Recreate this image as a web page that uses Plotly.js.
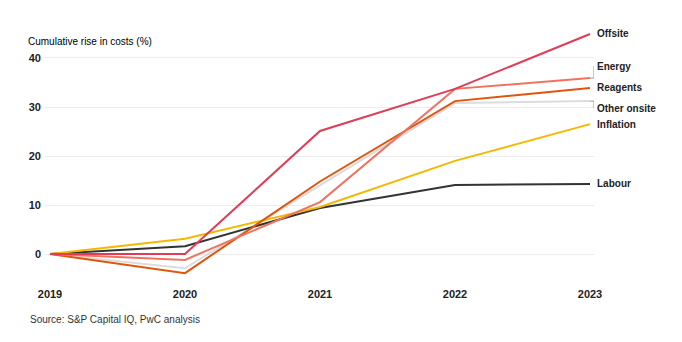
<!DOCTYPE html>
<html>
<head>
<meta charset="utf-8">
<script src="https://cdn.plot.ly/plotly-3.0.1.min.js"></script>
<style>html,body{margin:0;padding:0;background:#fff;}#chart{width:682px;height:342px;}</style>
</head>
<body>
<div id="chart"></div>
<script>
const years = [2019, 2020, 2021, 2022, 2023];
const otherOnsite = [0, -2.9, 14.0, 30.8, 31.2];
const labour = [0, 1.6, 9.4, 14.1, 14.3];
const inflation = [0, 3.1, 9.6, 19.0, 26.5];
const reagents = [0, -3.9, 14.8, 31.2, 33.9];
const energy = [0, -1.2, 10.6, 33.7, 35.9];
const offsite = [0, 0, 25.1, 33.7, 44.9];
const yTicks = [0, 10, 20, 30, 40];
const xTicks = ['2019', '2020', '2021', '2022', '2023'];

const series = [
  {name: 'Other onsite', y: otherOnsite, color: '#dcdcdc', shift: -7},
  {name: 'Labour', y: labour, color: '#333333', shift: 0},
  {name: 'Inflation', y: inflation, color: '#f5b800', shift: 0},
  {name: 'Reagents', y: reagents, color: '#e0540c', shift: 0},
  {name: 'Energy', y: energy, color: '#f0735f', shift: 12},
  {name: 'Offsite', y: offsite, color: '#e23b55', shift: 0}
];

const traces = series.map(s => ({
  x: years, y: s.y, type: 'scatter', mode: 'lines', name: s.name,
  line: {color: s.color, width: 2}, hoverinfo: 'skip'
}));

const pxPerUnit = 4.9;
const annotations = series.map(s => ({
  x: years[years.length - 1], y: s.y[s.y.length - 1], xref: 'x', yref: 'y',
  text: '<b>' + s.name + '</b>', showarrow: false, xanchor: 'left', yanchor: 'middle',
  xshift: 5, yshift: s.shift, font: {family: 'Liberation Sans, Arial, sans-serif', size: 10, color: '#222'}
}));
annotations.push({
  x: -0.031, y: -0.145, xref: 'paper', yref: 'paper', xanchor: 'left', yanchor: 'middle',
  text: 'Source: S&P Capital IQ, PwC analysis', showarrow: false,
  font: {family: 'Liberation Sans, Arial, sans-serif', size: 10, color: '#333'}
});

const shapes = [];
const xUnit = 1 / 135;
series.filter(s => s.shift !== 0).forEach(s => {
  const yEnd = s.y[s.y.length - 1];
  const yLab = yEnd + s.shift / pxPerUnit;
  const x0 = 2023, x1 = 2023 + 4 * xUnit, x2 = 2023 + 7 * xUnit;
  shapes.push({type: 'path', xref: 'x', yref: 'y',
    path: `M ${x0} ${yEnd} L ${x1} ${yEnd} L ${x1} ${yLab} L ${x2} ${yLab}`,
    line: {color: '#9a9a9a', width: 1}});
});

const layout = {
  width: 682, height: 342,
  margin: {l: 45, r: 88, t: 24, b: 60},
  paper_bgcolor: '#fff', plot_bgcolor: '#fff',
  showlegend: false,
  title: {text: 'Cumulative rise in costs (%)', x: 28 / 682, xanchor: 'left', xref: 'container',
    y: 1 - 41 / 342, yanchor: 'middle', yref: 'container',
    font: {family: 'Liberation Sans, Arial, sans-serif', size: 10, color: '#000'}},
  xaxis: {range: [2019 - 5 * xUnit, 2023 + 4 * xUnit], tickvals: years, ticktext: xTicks.map(t => '<b>' + t + '</b>'),
    showgrid: false, zeroline: false, showline: false, ticks: '',
    tickfont: {family: 'Liberation Sans, Arial, sans-serif', size: 11, color: '#222'}, ticklabelstandoff: 4},
  yaxis: {range: [-5.71, 41.63 + 26 / 4.9], tickvals: yTicks, ticktext: yTicks.map(t => '<b>' + t + '</b>'),
    showgrid: true, gridcolor: '#ececec', gridwidth: 1, zeroline: false, showline: false, ticks: '',
    tickfont: {family: 'Liberation Sans, Arial, sans-serif', size: 11, color: '#222'}, ticklabelstandoff: 3},
  annotations: annotations,
  shapes: shapes
};

Plotly.newPlot('chart', traces, layout, {displayModeBar: false, staticPlot: true});
</script>
</body>
</html>
